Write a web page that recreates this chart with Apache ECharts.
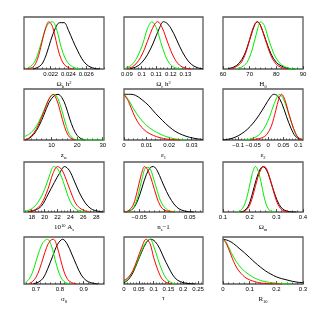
<!DOCTYPE html>
<html><head><meta charset="utf-8">
<script src="https://cdn.jsdelivr.net/npm/echarts@6/dist/echarts.min.js"></script>
<style>html,body{margin:0;padding:0;background:#fff}#c{width:319px;height:319px}</style>
</head><body><div id="c"></div>
<script>
// ---- Data ----
// Panel 1: Omega_b h^2
const obhBlack = [[0.0200,0],[0.0205,0.03],[0.0210,0.1],[0.0215,0.3],[0.0220,0.6],[0.0225,0.85],[0.0230,0.98],[0.0235,0.98],[0.0240,0.82],[0.0245,0.6],[0.0250,0.4],[0.0255,0.22],[0.0260,0.1],[0.0265,0.04],[0.0270,0.01],[0.0275,0]];
const obhRed = [[0.0192,0],[0.0200,0.04],[0.0205,0.2],[0.0210,0.55],[0.0214,0.85],[0.0218,1.0],[0.0222,0.9],[0.0226,0.6],[0.0230,0.3],[0.0235,0.1],[0.0240,0.03],[0.0245,0]];
const obhGreen = [[0.0192,0],[0.0197,0.05],[0.0202,0.15],[0.0207,0.4],[0.0212,0.72],[0.0217,0.95],[0.0222,1.0],[0.0227,0.82],[0.0232,0.45],[0.0237,0.2],[0.0242,0.08],[0.0248,0.02],[0.0255,0]];
const obhTicks = [0.022, 0.024, 0.026];
// Panel 2: Omega_c h^2
const ochBlack = [[0.092,0.01],[0.096,0.04],[0.100,0.13],[0.104,0.3],[0.108,0.55],[0.112,0.85],[0.115,1.0],[0.118,0.95],[0.122,0.75],[0.126,0.48],[0.130,0.25],[0.134,0.1],[0.138,0.03],[0.142,0]];
const ochRed = [[0.090,0.01],[0.094,0.05],[0.098,0.18],[0.102,0.42],[0.106,0.75],[0.109,0.95],[0.111,1.0],[0.114,0.88],[0.118,0.55],[0.122,0.25],[0.126,0.08],[0.130,0.02],[0.134,0]];
const ochGreen = [[0.089,0.02],[0.093,0.08],[0.097,0.25],[0.101,0.55],[0.104,0.85],[0.107,1.0],[0.110,0.88],[0.113,0.58],[0.116,0.3],[0.119,0.12],[0.122,0.04],[0.125,0.01],[0.128,0]];
const ochTicks = [0.09, 0.1, 0.11, 0.12, 0.13];
// Panel 3: H0
const h0Black = [[62,0.01],[64,0.04],[66,0.12],[68,0.3],[70,0.62],[72,0.95],[73,1.0],[74,0.93],[76,0.62],[78,0.32],[80,0.14],[82,0.06],[84,0.02],[87,0]];
const h0Red = [[63,0.01],[65,0.05],[67,0.15],[69,0.42],[71,0.82],[72.8,1.0],[74,0.93],[76,0.6],[78,0.28],[80,0.1],[82,0.03],[84,0]];
const h0Green = [[65,0.01],[67,0.04],[69,0.14],[71,0.42],[73,0.85],[74.2,1.0],[75.5,0.92],[77,0.65],[79,0.33],[81,0.14],[83,0.05],[85,0.015],[88,0]];
const h0Ticks = [60, 70, 80, 90];
// Panel 4: z_re
const zreBlack = [[-0.5,0],[1,0.03],[3,0.12],[5,0.3],[7,0.55],[9,0.82],[11,0.97],[12.5,1.0],[14,0.93],[15.5,0.75],[17,0.48],[18.5,0.25],[20,0.1],[21.5,0.03],[23,0]];
const zreRed = [[-0.5,0],[1,0.04],[3,0.15],[5,0.35],[7,0.62],[9,0.9],[10.5,1.0],[12,0.88],[13.5,0.6],[15,0.3],[16.5,0.1],[18,0.02],[19.5,0]];
const zreGreen = [[-0.8,0.07],[1,0.12],[3,0.22],[5,0.4],[7,0.65],[9,0.9],[11,1.0],[12.5,0.9],[14,0.65],[15.5,0.35],[17,0.12],[18.5,0.03],[20,0],[30.5,0]];
const zreTicks = [10, 20, 30];
// Panel 5: epsilon_1
const e1Black = [[0,1.0],[0.002,1.0],[0.005,0.98],[0.008,0.88],[0.011,0.75],[0.014,0.58],[0.017,0.43],[0.020,0.29],[0.023,0.18],[0.026,0.11],[0.029,0.06],[0.032,0.03],[0.035,0.01]];
const e1Red = [[0,1.0],[0.002,0.84],[0.004,0.6],[0.006,0.4],[0.008,0.27],[0.010,0.18],[0.013,0.1],[0.016,0.05],[0.019,0.02],[0.022,0.005],[0.025,0]];
const e1Green = [[0,1.0],[0.002,0.88],[0.004,0.7],[0.007,0.48],[0.010,0.32],[0.013,0.21],[0.016,0.13],[0.019,0.07],[0.022,0.03],[0.025,0.01],[0.028,0]];
const e1Ticks = [0, 0.01, 0.02, 0.03];
// Panel 6: epsilon_2
const e2Black = [[-0.15,0],[-0.13,0.02],[-0.11,0.06],[-0.09,0.13],[-0.07,0.23],[-0.05,0.37],[-0.03,0.55],[-0.01,0.76],[0.005,0.92],[0.018,1.0],[0.03,0.97],[0.045,0.8],[0.06,0.52],[0.075,0.26],[0.09,0.08],[0.105,0.02],[0.115,0]];
const e2Red = [[-0.06,0],[-0.04,0.02],[-0.02,0.05],[-0.005,0.12],[0.01,0.3],[0.025,0.65],[0.035,0.9],[0.044,1.0],[0.055,0.88],[0.065,0.65],[0.078,0.36],[0.09,0.15],[0.1,0.05],[0.115,0]];
const e2Green = [[-0.08,0],[-0.06,0.02],[-0.04,0.07],[-0.025,0.15],[-0.01,0.3],[0.005,0.52],[0.02,0.8],[0.037,1.0],[0.05,0.9],[0.065,0.62],[0.078,0.36],[0.09,0.15],[0.1,0.05],[0.115,0]];
const e2Ticks = [-0.1, -0.05, 0, 0.05, 0.1];
// Panel 7: 10^10 A_s
const asBlack = [[17.5,0.01],[18.5,0.04],[19.5,0.13],[20.5,0.38],[21.5,0.65],[22.3,0.85],[23.1,1.0],[23.8,0.92],[24.6,0.68],[25.4,0.42],[26.3,0.2],[27.2,0.07],[28.2,0.02],[29,0]];
const asRed = [[17.5,0.01],[18.5,0.05],[19.5,0.18],[20.5,0.5],[21.3,0.85],[22,1.0],[22.7,0.92],[23.5,0.65],[24.3,0.35],[25,0.15],[26,0.04],[27,0]];
const asGreen = [[17,0.02],[18,0.07],[19,0.22],[20,0.5],[20.8,0.82],[21.4,1.0],[22,0.95],[22.8,0.7],[23.5,0.4],[24.2,0.17],[25,0.05],[26,0.01],[27,0]];
const asTicks = [18, 20, 22, 24, 26, 28];
// Panel 8: n_s - 1
const nsBlack = [[-0.076,0],[-0.068,0.03],[-0.06,0.1],[-0.052,0.28],[-0.044,0.55],[-0.036,0.82],[-0.028,0.98],[-0.022,1.0],[-0.014,0.9],[-0.006,0.7],[0.004,0.45],[0.014,0.25],[0.024,0.11],[0.034,0.04],[0.046,0.01],[0.058,0]];
const nsRed = [[-0.078,0],[-0.07,0.04],[-0.062,0.15],[-0.054,0.45],[-0.046,0.82],[-0.039,1.0],[-0.032,0.9],[-0.024,0.65],[-0.016,0.35],[-0.008,0.13],[0,0.04],[0.01,0.01],[0.02,0]];
const nsGreen = [[-0.076,0],[-0.068,0.03],[-0.06,0.12],[-0.052,0.37],[-0.044,0.75],[-0.036,0.98],[-0.03,0.97],[-0.022,0.75],[-0.014,0.45],[-0.006,0.2],[0.004,0.06],[0.014,0.015],[0.024,0]];
const nsTicks = [-0.05, 0, 0.05];
// Panel 9: Omega_m
const omBlack = [[0.165,0],[0.18,0.03],[0.195,0.13],[0.21,0.4],[0.225,0.72],[0.24,0.95],[0.25,1.0],[0.265,0.9],[0.28,0.65],[0.295,0.38],[0.31,0.17],[0.325,0.06],[0.34,0.02],[0.36,0],[0.375,0]];
const omRed = [[0.17,0],[0.185,0.03],[0.2,0.15],[0.215,0.42],[0.23,0.75],[0.245,0.97],[0.255,1.0],[0.27,0.85],[0.285,0.55],[0.3,0.25],[0.315,0.08],[0.33,0.02],[0.345,0]];
const omGreen = [[0.15,0],[0.165,0.03],[0.18,0.15],[0.195,0.45],[0.21,0.85],[0.222,1.0],[0.235,0.85],[0.248,0.5],[0.26,0.2],[0.272,0.05],[0.285,0.01],[0.3,0]];
const omTicks = [0.1, 0.2, 0.3, 0.4];
// Panel 10: sigma_8
const s8Black = [[0.69,0.01],[0.71,0.04],[0.73,0.13],[0.75,0.35],[0.77,0.62],[0.79,0.88],[0.812,1.0],[0.83,0.9],[0.85,0.67],[0.87,0.42],[0.89,0.2],[0.91,0.08],[0.93,0.03],[0.96,0]];
const s8Red = [[0.67,0.01],[0.685,0.05],[0.7,0.15],[0.715,0.33],[0.73,0.58],[0.745,0.82],[0.76,0.97],[0.773,1.0],[0.788,0.85],[0.803,0.55],[0.818,0.27],[0.833,0.1],[0.85,0.03],[0.87,0]];
const s8Green = [[0.655,0.03],[0.67,0.1],[0.685,0.25],[0.7,0.5],[0.715,0.75],[0.73,0.93],[0.748,1.0],[0.765,0.85],[0.78,0.55],[0.795,0.27],[0.81,0.1],[0.825,0.03],[0.845,0]];
const s8Ticks = [0.7, 0.8, 0.9];
// Panel 11: tau
const tauBlack = [[0,0.03],[0.015,0.1],[0.03,0.25],[0.045,0.48],[0.06,0.72],[0.075,0.92],[0.09,1.0],[0.105,0.95],[0.12,0.8],[0.135,0.58],[0.15,0.38],[0.165,0.2],[0.18,0.09],[0.2,0.03],[0.22,0.01],[0.24,0]];
const tauRed = [[0,0.08],[0.015,0.15],[0.03,0.3],[0.045,0.55],[0.06,0.82],[0.075,1.0],[0.088,0.9],[0.1,0.6],[0.115,0.3],[0.13,0.1],[0.145,0.03],[0.16,0]];
const tauGreen = [[0,0.05],[0.015,0.13],[0.03,0.28],[0.045,0.5],[0.06,0.75],[0.075,0.94],[0.088,1.0],[0.1,0.85],[0.115,0.55],[0.13,0.28],[0.145,0.1],[0.16,0.03],[0.175,0]];
const tauTicks = [0, 0.05, 0.1, 0.15, 0.2, 0.25];
// Panel 12: R_10
const rBlack = [[0,1.0],[0.02,0.97],[0.04,0.9],[0.06,0.8],[0.08,0.7],[0.1,0.59],[0.12,0.48],[0.14,0.38],[0.16,0.29],[0.18,0.22],[0.2,0.16],[0.22,0.12],[0.24,0.09],[0.26,0.06],[0.28,0.04],[0.3,0.03]];
const rRed = [[0,1.0],[0.01,0.93],[0.02,0.8],[0.03,0.65],[0.04,0.5],[0.05,0.38],[0.06,0.29],[0.075,0.19],[0.09,0.12],[0.11,0.07],[0.13,0.035],[0.15,0.015],[0.18,0.005],[0.22,0]];
const rGreen = [[0,1.0],[0.01,0.95],[0.02,0.84],[0.03,0.71],[0.04,0.6],[0.05,0.5],[0.065,0.38],[0.08,0.29],[0.1,0.2],[0.12,0.13],[0.14,0.08],[0.16,0.05],[0.19,0.025],[0.22,0.01],[0.26,0]];
const rTicks = [0, 0.1, 0.2, 0.3];

const axisNames = [
  '{n|Ω}{s|b}{n| h}{p|2}', '{n|Ω}{s|c}{n| h}{p|2}', '{n|H}{s|0}',
  '{n|z}{s|re}', '{n|ε}{s|1}', '{n|ε}{s|2}',
  '{n|10}{p|10}{n| A}{s|s}', '{n|n}{s|s}{n|−1}', '{n|Ω}{s|m}',
  '{n|σ}{s|8}', '{n|τ}', '{n|R}{s|10}'
];

// ---- Layout / style ----
const curves = [
  [obhBlack, obhRed, obhGreen], [ochBlack, ochRed, ochGreen], [h0Black, h0Red, h0Green],
  [zreBlack, zreRed, zreGreen], [e1Black, e1Red, e1Green], [e2Black, e2Red, e2Green],
  [asBlack, asRed, asGreen], [nsBlack, nsRed, nsGreen], [omBlack, omRed, omGreen],
  [s8Black, s8Red, s8Green], [tauBlack, tauRed, tauGreen], [rBlack, rRed, rGreen]
];
const ticks = [obhTicks, ochTicks, h0Ticks, zreTicks, e1Ticks, e2Ticks, asTicks, nsTicks, omTicks, s8Ticks, tauTicks, rTicks];
const ranges = [[0.019,0.028],[0.088,0.142],[60,90],[-0.8,30.5],[0,0.035],[-0.15,0.115],[16.8,29.2],[-0.08,0.076],[0.1,0.4],[0.65,0.985],[0,0.267],[0,0.3]];
const minorStep = [0.0005,0.0025,2,2,0.002,0.01,0.5,0.01,0.02,0.02,0.01,0.02];
const colLeft = [24, 124, 223];
const colWidth = [80, 79, 80];
const rowTop = [17, 89, 162, 237];
const rowHeight = [52, 51, 50, 47];
const rowYMax = [1.1, 1.116, 1.1, 1.05];
const colors = ['#000000', '#ff0000', '#00ee00'];
const drawOrder = [0, 2, 1];

function fmt(v) {
  const s = String(+(+v).toFixed(5));
  return s.replace('-', '−');
}

const grid = [], xAxis = [], yAxis = [], series = [];
for (let i = 0; i < 12; i++) {
  const r = Math.floor(i / 3), c = i % 3;
  grid.push({left: colLeft[c], top: rowTop[r], width: colWidth[c], height: rowHeight[r],
    show: true, borderColor: '#5a5a5a', borderWidth: 1.3, backgroundColor: 'transparent'});
  const [mn, mx] = ranges[i];
  // major axis with labels
  xAxis.push({type: 'value', gridIndex: i, min: mn, max: mx, position: 'bottom',
    axisLine: {show: false},
    splitLine: {show: false},
    axisTick: {show: true, inside: true, length: 3, customValues: ticks[i], lineStyle: {color: '#333', width: 0.8}},
    axisLabel: {show: true, customValues: ticks[i], margin: 2, fontSize: 6, color: '#000',
      fontFamily: 'Liberation Sans', formatter: fmt},
    name: axisNames[i], nameLocation: 'middle', nameGap: 11,
    nameTextStyle: {color: '#000', fontFamily: 'Liberation Serif', rich: {
      n: {fontSize: 7, fontFamily: 'Liberation Serif', color: '#000'},
      s: {fontSize: 4.5, fontFamily: 'Liberation Serif', color: '#000', padding: [4, 0, 0, 0]},
      p: {fontSize: 4.5, fontFamily: 'Liberation Serif', color: '#000', padding: [0, 0, 4, 0]}
    }}
  });
  // minor ticks axis
  const minor = [];
  const st = minorStep[i];
  let v0 = Math.ceil(mn / st - 1e-9) * st;
  for (let v = v0; v <= mx + 1e-12; v += st) minor.push(+v.toFixed(6));
  xAxis.push({type: 'value', gridIndex: i, min: mn, max: mx, position: 'bottom',
    axisLine: {show: false}, splitLine: {show: false}, axisLabel: {show: false},
    axisTick: {show: true, inside: true, length: 1.6, customValues: minor, lineStyle: {color: '#333', width: 0.7}}
  });
  yAxis.push({type: 'value', gridIndex: i, min: 0, max: rowYMax[r], show: false});
  for (const k of drawOrder) {
    series.push({type: 'line', xAxisIndex: 2 * i, yAxisIndex: i, data: curves[i][k],
      smooth: 0.35, showSymbol: false, symbol: 'none', clip: true, silent: true,
      lineStyle: {color: colors[k], width: 1}});
  }
}

const chart = echarts.init(document.getElementById('c'), null, {renderer: 'canvas'});
chart.setOption({animation: false, backgroundColor: '#fff', grid, xAxis, yAxis, series});
</script>
</body></html>
